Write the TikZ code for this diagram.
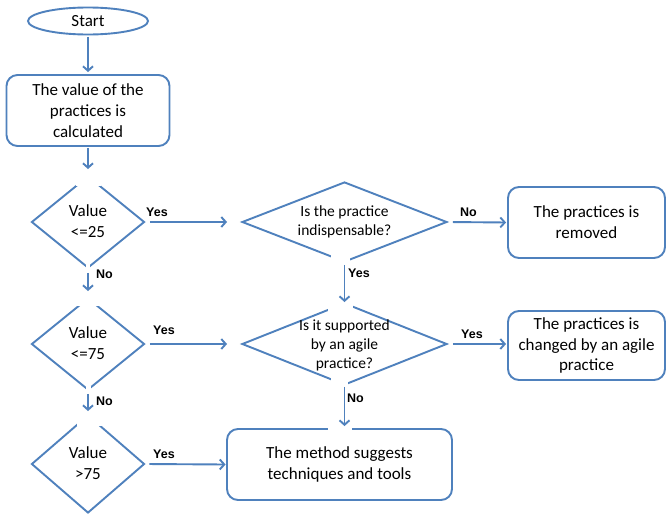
\documentclass[tikz,border=0pt]{standalone}
\usepackage{fontspec}
\setmainfont{Carlito}
\newfontfamily\labelfont{Liberation Sans}
\usetikzlibrary{shapes.geometric,arrows.meta}
\definecolor{flowblue}{RGB}{79,129,189}
\begin{document}
\begin{tikzpicture}[x=1pt,y=-1pt,
  outline/.style={draw=flowblue,line width=1.9pt},
  roundbox/.style={outline,rectangle,rounded corners=11pt,inner sep=0pt,align=center,
    font=\fontsize{17}{20.7}\selectfont},
  decision/.style={outline,diamond,inner sep=0pt},
  dtext/.style={inner sep=0pt,align=center,font=\fontsize{17}{20.5}\selectfont},
  qtext/.style={inner sep=0pt,align=center,font=\fontsize{15.5}{19}\selectfont},
  answer/.style={inner sep=0pt,anchor=west,font=\labelfont\bfseries\fontsize{12.5}{14}\selectfont},
  flow/.style={draw=flowblue,line width=1.9pt,-{Straight Barb[length=4.5pt,width=10pt]}},
  maskpatch/.style={fill=white,draw=none}]
\fill[white] (0,0) rectangle (666,514);
\useasboundingbox (0,0) rectangle (666,514);

% left column
\node[outline,ellipse,minimum width=120pt,minimum height=27pt,inner sep=0pt,
  font=\fontsize{17}{20.7}\selectfont] (start) at (88,21) {Start};
\node[roundbox,minimum width=163pt,minimum height=71pt] (calc) at (88,110.5)
  {The value of the\\practices is\\calculated};
\node[decision,minimum width=113pt,minimum height=92pt] (d1) at (88,222) {};
\node[decision,minimum width=113pt,minimum height=92pt] (d2) at (88,344) {};
\node[decision,minimum width=113pt,minimum height=98pt] (d3) at (88,464) {};

% middle column
\node[decision,minimum width=205pt,minimum height=80pt] (dA) at (344.5,222) {};
\node[decision,minimum width=205pt,minimum height=82pt] (dB) at (344.5,344) {};
\node[roundbox,minimum width=225pt,minimum height=71pt] (meth) at (339.5,464.5)
  {The method suggests\\techniques and tools};

% right column
\node[roundbox,minimum width=157pt,minimum height=71pt] (rem) at (586.5,222.5)
  {The practices is\\removed};
\node[roundbox,minimum width=157pt,minimum height=69pt] (chg) at (586.5,345.5)
  {The practices is\\changed by an agile\\practice};

% text boxes of the decisions open the outline near their tips
\fill[maskpatch] (76,172) rectangle (101,186);
\fill[maskpatch] (85.5,264) rectangle (90,271);
\fill[maskpatch] (76,294) rectangle (101,306);
\fill[maskpatch] (85.5,386) rectangle (91,393);
\fill[maskpatch] (77,411) rectangle (104,426);
\fill[maskpatch] (331,253) rectangle (350,266);
\fill[maskpatch] (328,298) rectangle (353,311);
\fill[maskpatch] (331,377) rectangle (348,388);
\fill[maskpatch] (328,425) rectangle (352,433);

% decision texts
\node[dtext] (t1) at ([yshift=1pt]d1.center) {Value\\<=25};
\node[dtext] (t2) at ([yshift=1pt]d2.center) {Value\\<=75};
\node[dtext] (t3) at ([yshift=1pt]d3.center) {Value\\>75};
\node[qtext] (tA) at ([yshift=0pt]dA.center) {Is the practice\\indispensable?};
\node[qtext] (tB) at ([yshift=-1pt]dB.center) {Is it supported\\by an agile\\practice?};

% connectors
\draw[flow,shorten <=1.5pt,shorten >=2pt] (start) -- (calc);
\draw[flow,shorten <=1pt,shorten >=6pt] (calc) -- (d1);
\draw[flow,shorten <=4pt,shorten >=6pt] (d1) -- (d2);
\draw[flow,shorten <=3pt,shorten >=3pt] (d2) -- (d3);
\draw[flow,shorten <=4.5pt,shorten >=14pt] (d1.east) -- (dA.west);
\draw[flow,shorten <=4.5pt,shorten >=14pt] (d2.east) -- (dB.west);
\draw[flow,shorten <=4pt,shorten >=0.5pt] (d3.east) -- (meth.west);
\draw[flow,shorten <=5pt,shorten >=1pt] (dA.east) -- (rem.west);
\draw[flow,shorten <=5pt,shorten >=1pt] (dB.east) -- (chg.west |- dB.east);
\draw[flow,shorten <=2pt,shorten >=0pt] (dA.south) -- (dB.north);
\draw[flow,shorten <=1pt,shorten >=2pt] (dB.south) -- (dB.south |- meth.north);

% branch labels
\node[answer] (y1) at (146,212) {Yes};
\node[answer] (n1) at (96,274) {No};
\node[answer] (y2) at (153,330) {Yes};
\node[answer] (n2) at (96,401) {No};
\node[answer] (y3) at (153,454) {Yes};
\node[answer] (nA) at (460,212) {No};
\node[answer] (yA) at (348,273) {Yes};
\node[answer] (yB) at (461,334) {Yes};
\node[answer] (nB) at (347,398) {No};
\end{tikzpicture}
\end{document}
